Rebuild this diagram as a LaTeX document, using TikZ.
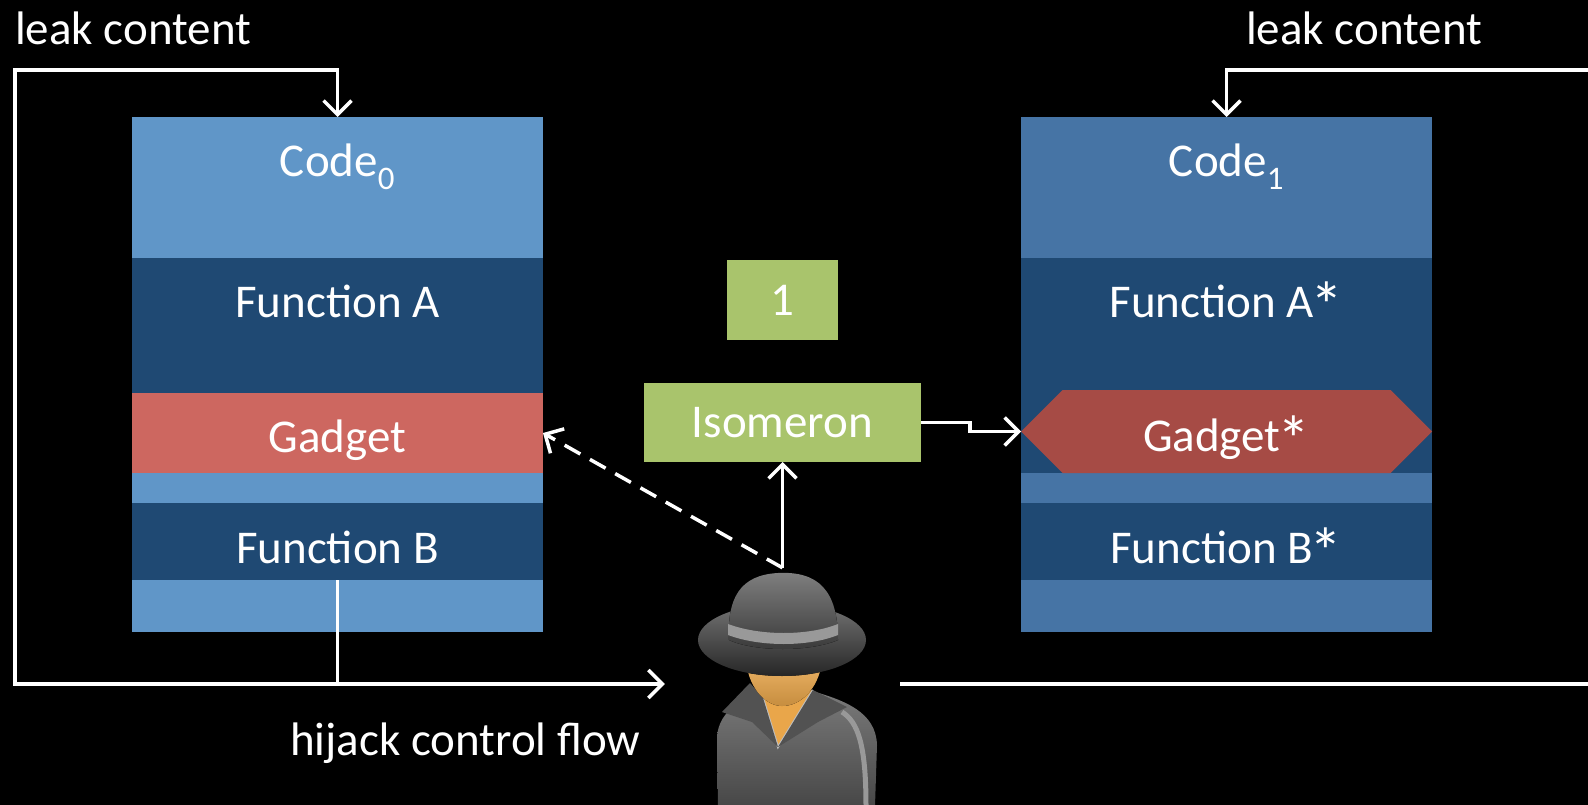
\documentclass[tikz,border=0pt]{standalone}
\usepackage{fontspec}
\setmainfont{Carlito}
\usetikzlibrary{arrows.meta}
\usetikzlibrary{positioning}
\usetikzlibrary{shapes.symbols}
\tikzset{>={Straight Barb[length=14pt, width=28pt]}}
\tikzset{flow/.style = {draw=white, line width=3.5pt}}
\tikzset{band/.style = {inner sep=0, outer sep=0, minimum width=411pt}}
\tikzset{lbl/.style = {text=white, inner sep=0, anchor=base, font=\fontsize{47}{56}\selectfont}}
\tikzset{isobox/.style = {fill=mgreen, inner sep=0, outer sep=0, text=white, font=\fontsize{47}{56}\selectfont}}
\newcommand{\starmark}{\kern-0.07em\raisebox{-0.24em}{\scalebox{1.4}{*}}}
\definecolor{lblue}{HTML}{6096C8}
\definecolor{rblue}{HTML}{4674A5}
\definecolor{dblue}{HTML}{1F4973}
\definecolor{lred}{HTML}{CD6760}
\definecolor{rred}{HTML}{A64B45}
\definecolor{mgreen}{HTML}{A9C46C}
\definecolor{skin}{HTML}{E9A64A}

\begin{document}
\begin{tikzpicture}[x=1pt, y=-1pt]
    \useasboundingbox (0, 0) rectangle (1588, 805);
    \fill [black] (0, 0) rectangle (1588, 805);

    % original code
    \node [band, fill=lblue, minimum height=141pt, anchor=north west] (code0) at (132, 117) {};
    \node [band, fill=dblue, minimum height=135pt, below=0pt of code0] (funA) {};
    \node [band, fill=lred, minimum height=80pt, below=0pt of funA] (gadA) {};
    \node [band, fill=lblue, minimum height=30pt, below=0pt of gadA] (gapA) {};
    \node [band, fill=dblue, minimum height=77pt, below=0pt of gapA] (funB) {};
    \node [band, fill=lblue, minimum height=52pt, below=0pt of funB] (endA) {};

    % diversified copy
    \node [band, fill=rblue, minimum height=141pt, anchor=north west] (code1) at (1021, 117) {};
    \node [band, fill=dblue, minimum height=215pt, below=0pt of code1] (funAs) {};
    \node [band, fill=rblue, minimum height=30pt, below=0pt of funAs] (gapB) {};
    \node [band, fill=dblue, minimum height=77pt, below=0pt of gapB] (funBs) {};
    \node [band, fill=rblue, minimum height=52pt, below=0pt of funBs] (endB) {};
    \node [band, shape=signal, signal to=west and east, signal pointer angle=90,
           fill=rred, minimum height=83pt] (gadB) at (1226.5, 431.5) {};

    \node [lbl] (code0t) at ([yshift=-60pt] code0.north) {Code\textsubscript{0}};
    \node [lbl] (funAt) at ([yshift=-59pt] funA.north) {Function A};
    \node [lbl] (gadAt) at ([yshift=-59pt] gadA.north) {Gadget};
    \node [lbl] (funBt) at ([yshift=-60pt] funB.north) {Function B};
    \node [lbl] (code1t) at ([yshift=-60pt] code1.north) {Code\textsubscript{1}};
    \node [lbl] (funAst) at ([yshift=-59pt] funAs.north) {Function A\starmark};
    \node [lbl] (gadBt) at ([yshift=-61pt] gadB.north) {Gadget\starmark};
    \node [lbl] (funBst) at ([yshift=-60pt] funBs.north) {Function B\starmark};

    \node [isobox, minimum width=111pt, minimum height=80pt] (one) at (782.5, 300) {1};
    \node [isobox, minimum width=277pt, minimum height=79pt] (iso) at (782.5, 422.5) {Isomeron};

    % attacker
    \node [inner sep=0, minimum width=235pt, minimum height=232pt] (spy) at (782.5, 684) {};
    \fill [top color=black!52, bottom color=black!72]
        (718, 806) -- (717, 740) .. controls (717, 715) and (735, 702) .. (760, 694)
        -- (808, 690) .. controls (845, 700) and (876, 712) .. (877, 745) -- (875, 806) -- cycle;
    \draw [black!40, line width=5pt] (842, 712) .. controls (858, 722) and (866, 745) .. (866, 806);
    \fill [skin] (763, 698) -- (778, 747) -- (813, 690) -- cycle;
    \draw [black!25, line width=2pt] (763, 698) -- (778, 747) -- (813, 690);
    \fill [black!68] (722, 712) -- (750, 683) -- (763, 698) -- (778, 747) -- (752, 722) -- cycle;
    \fill [black!68] (813, 690) -- (847, 707) -- (818, 722) -- (778, 747) -- cycle;
    \fill [top color=skin!85!white, bottom color=skin!85!black]
        (746, 662) .. controls (750, 692) and (768, 706) .. (782, 706)
        .. controls (800, 706) and (818, 690) .. (822, 662) -- cycle;
    \fill [top color=black!55, bottom color=black!85] (782, 640) ellipse [x radius=84, y radius=36];
    \fill [top color=black!50, bottom color=black!78]
        (729, 640) .. controls (727, 598) and (740, 575) .. (778, 573)
        .. controls (818, 571) and (838, 590) .. (838, 640)
        .. controls (810, 652) and (755, 652) .. (729, 640) -- cycle;
    \fill [black!40]
        (728, 624) .. controls (760, 636) and (808, 636) .. (838, 624)
        -- (838, 635) .. controls (808, 647) and (760, 647) .. (728, 635) -- cycle;

    % connectors
    \coordinate (leakL) at (15, 70);
    \coordinate (leakR) at (1600, 70);
    \draw [flow, <->] (code0.north) |- (leakL) |- (spy.west);
    \draw [flow] (funB.south) -- (funB.south |- spy.west);
    \draw [flow, ->] (spy.east) -| (leakR) -| (code1.north);
    \draw [flow, ->] (iso.east) -- ++(49, 0) |- (gadB.west);
    \draw [flow, ->] (spy.north) -- (iso.south);
    \draw [flow, ->, dash pattern=on 18pt off 11pt] (spy.north) -- (gadA.east);

    \node [lbl, anchor=base west] (leak0) at (15, 45) {leak content};
    \node [lbl, anchor=base west] (leak1) at (1246, 45) {leak content};
    \node [lbl, anchor=base west] (hijack) at (290, 755) {hijack control flow};
\end{tikzpicture}
\end{document}
